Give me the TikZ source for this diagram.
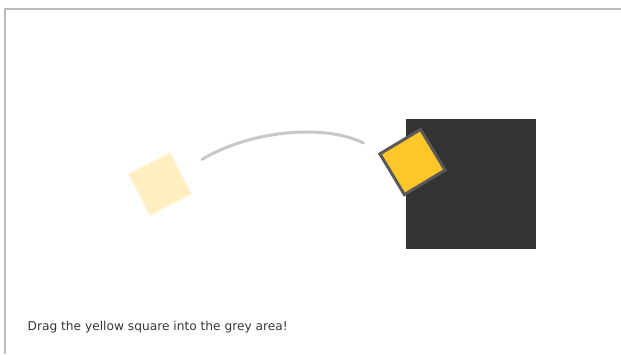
\documentclass[tikz,border=0pt]{standalone}
\usepackage{fontspec}
\setmainfont{DejaVu Sans}
\definecolor{framegrey}{HTML}{BBBBBB}
\definecolor{darkarea}{HTML}{333333}
\definecolor{yel}{HTML}{FFC62A}
\definecolor{yelfade}{HTML}{FFEFC2}
\definecolor{yelborder}{HTML}{595959}
\definecolor{arcgrey}{HTML}{C8C8C8}
\definecolor{txtgrey}{HTML}{383838}
\begin{document}
\begin{tikzpicture}[x=1pt,y=-1pt,
  sq/.style={minimum size=#1pt,inner sep=0pt,outer sep=0pt}]
\useasboundingbox (0,0) rectangle (621,354);
\fill[white] (0,0) rectangle (621,354);
% frame
\draw[framegrey,line width=2.5pt] (5.2,354) -- (5.2,9.2) -- (621,9.2);
% grey target
\node[sq=130,fill=darkarea] (target) at (471,183.5) {};
% faded start square
\node[sq=47,fill=yelfade,rotate=27] (ghost) at (160,184) {};
% moving square
\node[sq=47.5,fill=yel,draw=yelborder,line width=3pt,rotate=31] (mover) at (412.5,162) {};
% path arc
\coordinate (a0) at (202,159.5);
\coordinate (a1) at (363.5,143);
\draw[arcgrey,line width=3pt,line cap=round] (a0) .. controls (245,133) and (320,122) .. (a1);
% caption
\node[anchor=base west,inner sep=0pt,text=txtgrey,font=\fontsize{12.2}{14}\selectfont] (cap) at (27.5,330) {Drag the yellow square into the grey area!};
\end{tikzpicture}
\end{document}
